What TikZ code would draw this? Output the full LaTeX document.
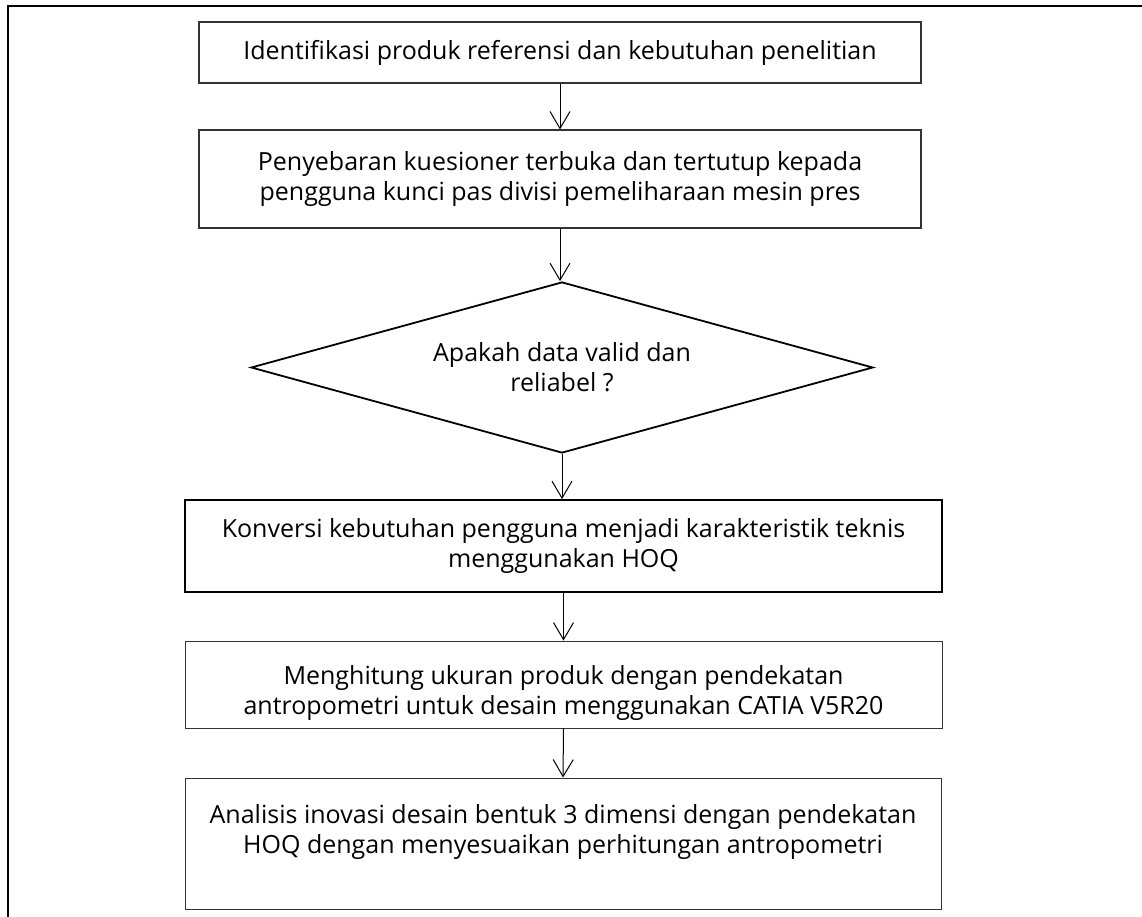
\documentclass[tikz,border=0pt]{standalone}
\usepackage{fontspec}
\setmainfont{Open Sans}
\usetikzlibrary{shapes.geometric,arrows.meta}
\begin{document}
\begin{tikzpicture}[x=1pt,y=-1pt,
  every node/.style={inner sep=0pt,align=center,font=\fontsize{25}{30}\selectfont},
  box/.style={draw=black!80,line width=1.1pt,rectangle},
  boldbox/.style={draw=black,line width=1.8pt,rectangle},
  decision/.style={draw=black,line width=1.8pt,diamond,shape aspect=3.6},
  flow/.style={draw=black,line width=1pt,-{Straight Barb[length=17pt,width=20pt,line width=1pt]}},
  frame/.style={draw=black,line width=1.6pt}]
\useasboundingbox (0,0) rectangle (1142,917);
\coordinate (fa) at (8,917);
\coordinate (fb) at (8,6);
\coordinate (fc) at (1142,6);
\draw[frame] (fa) -- (fb) -- (fc);
\node[box,minimum width=722pt,minimum height=61pt] (b1) at (560,52.5) {Identifikasi produk referensi dan kebutuhan penelitian};
\node[box,minimum width=722pt,minimum height=98pt] (b2) at (560,179) {Penyebaran kuesioner terbuka dan tertutup kepada\\pengguna kunci pas divisi pemeliharaan mesin pres};
\node[decision,minimum width=622pt,minimum height=171pt] (d) at (562,367.5) {Apakah data valid dan\\reliabel ?};
\node[boldbox,minimum width=757pt,minimum height=92pt] (b3) at (563.5,546) {Konversi kebutuhan pengguna menjadi karakteristik teknis\\menggunakan HOQ};
\node[box,line width=0.9pt,minimum width=757pt,minimum height=87pt] (b4) at (563.5,684.5) {\rule{0pt}{36pt}Menghitung ukuran produk dengan pendekatan\\antropometri untuk desain menggunakan CATIA V5R20};
\node[box,line width=0.9pt,minimum width=756pt,minimum height=131pt] (b5) at (563,843.5) {Analisis inovasi desain bentuk 3 dimensi dengan pendekatan\\HOQ dengan menyesuaikan perhitungan antropometri\\~};
\draw[flow] (b1.south) -- (b2.north);
\draw[flow] (b2.south) -- (b2.south |- d.north);
\draw[flow] (d.south) -- (d.south |- b3.north);
\draw[flow] (b3.south) -- (b4.north);
\draw[flow] (b4.south) -- (b5.north);
\end{tikzpicture}
\end{document}
